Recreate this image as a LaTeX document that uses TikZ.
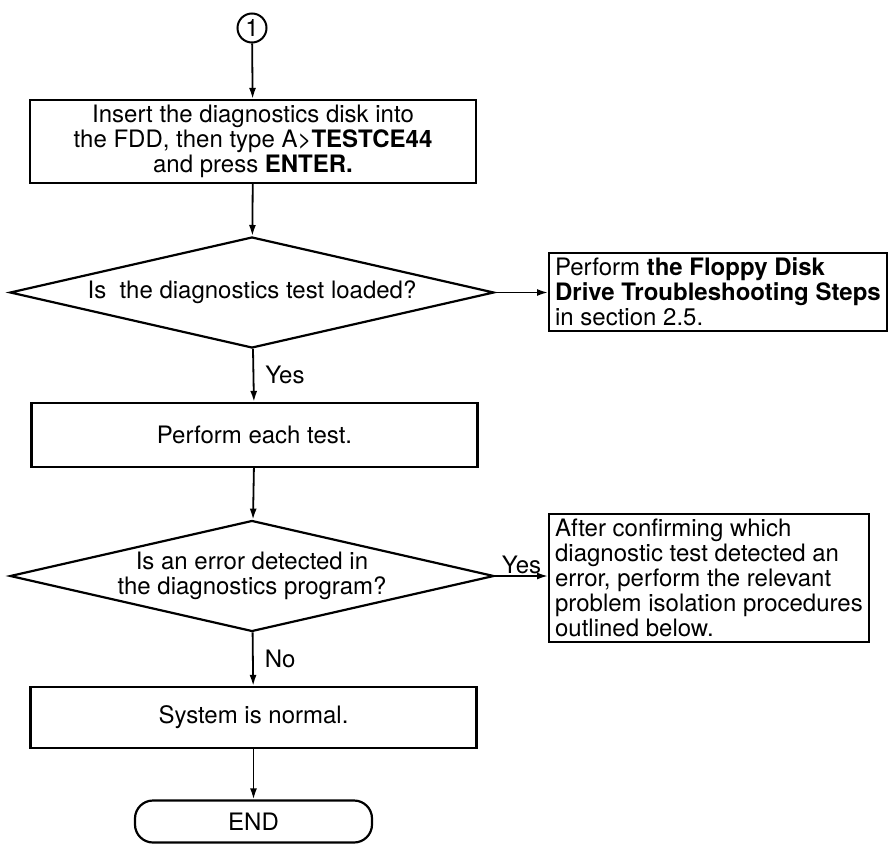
\documentclass[tikz,border=0pt]{standalone}
\usepackage{fontspec}
\setmainfont{TeX Gyre Heros}
\usetikzlibrary{arrows.meta,shapes.geometric}
\begin{document}
\begin{tikzpicture}[x=1pt,y=-1pt,
  every node/.style={font=\fontsize{24}{25}\selectfont},
  arr/.style={line width=1.8pt,-{Latex[length=11pt,width=7pt]}},
  procbox/.style={draw,line width=2.2pt,minimum width=446pt,inner sep=0pt,align=center},
  decision/.style={draw,diamond,aspect=4.36,line width=2.2pt,minimum width=484pt,minimum height=111pt,inner sep=0pt,align=center},
  notebox/.style={draw,line width=2.2pt,align=left,inner xsep=6pt,inner ysep=5pt,anchor=north west},
  lbl/.style={inner sep=1pt}
]
\useasboundingbox (0,0) rectangle (896,845);

\node[draw,circle,line width=2pt,minimum size=29pt,inner sep=0pt] (c1) at (252,28) {1};
\node[procbox,minimum height=83pt] (b1) at (253,141.5)
  {Insert the diagnostics disk into\\the FDD, then type A>\textbf{TESTCE44}\\and press \textbf{ENTER.}};
\node[decision] (d1) at (252,292.5) {Is~ the diagnostics test loaded?};
\node[notebox] (n1) at (548,252)
  {Perform \textbf{the Floppy Disk}\\\textbf{Drive Troubleshooting Steps}\\in section 2.5.};
\node[procbox,minimum height=64pt] (b2) at (254.5,435) {Perform each test.};
\node[decision] (d2) at (252,576) {Is an error detected in\\the diagnostics program?};
\node[notebox] (n2) at (548,513)
  {After confirming which\\diagnostic test detected an\\error, perform the relevant\\problem isolation procedures\\outlined below.};
\node[procbox,minimum height=61pt] (b3) at (253.5,717.5) {System is normal.};
\node[draw,rounded corners=18pt,line width=2.2pt,minimum width=237pt,minimum height=42pt,inner sep=0pt] (e1) at (253.5,821.5) {END};

\draw[arr] (c1) -- (b1);
\draw[arr] (b1) -- (d1);
\draw[arr] (d1.east) -- (n1.west |- d1.east);
\draw[arr] (d1) -- node[anchor=west,xshift=10pt,lbl]{Yes} (b2);
\draw[arr] (b2) -- (d2);
\draw[arr] (d2.east) -- node[above,lbl]{Yes} (n2.west |- d2.east);
\draw[arr] (d2) -- node[anchor=west,xshift=10pt,lbl]{No} (b3);
\draw[arr] (b3) -- (e1);
\end{tikzpicture}
\end{document}
